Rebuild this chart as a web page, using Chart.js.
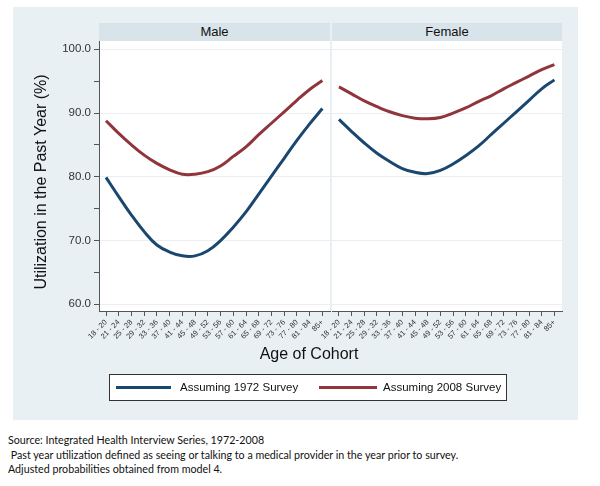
<!DOCTYPE html>
<html><head><meta charset="utf-8">
<script src="https://cdn.jsdelivr.net/npm/chart.js@4/dist/chart.umd.min.js"></script>
<style>
html,body{margin:0;padding:0;background:#fff;width:600px;height:486px;overflow:hidden;font-family:"Liberation Sans",Arial,sans-serif;}
#bg{position:absolute;left:13px;top:7px;width:565px;height:413px;background:#e9f0f3;}
.strip{position:absolute;top:23px;height:18px;background:#d8e3ea;font-size:13px;color:#111;text-align:center;line-height:18px;}
canvas{position:absolute;top:0;}
#ytitle{position:absolute;left:-79px;top:172px;width:240px;height:20px;line-height:20px;text-align:center;font-size:16px;color:#111;transform:rotate(-90deg);transform-origin:50% 50%;}
#xtitle{position:absolute;left:209px;top:344px;width:200px;text-align:center;font-size:16px;color:#111;line-height:20px;}
#legend{position:absolute;left:109px;top:374px;width:396px;height:25px;border:1px solid #333;background:#fff;font-size:11.5px;color:#111;}
.lline{position:absolute;top:11px;height:3px;}
.ltext{position:absolute;top:5px;line-height:14px;white-space:nowrap;}
#notes{position:absolute;left:8px;top:433px;font-family:Lato,"Open Sans",sans-serif;font-size:10.7px;color:#111;line-height:14.5px;white-space:pre;}
</style></head>
<body>
<div id="bg"></div>
<div class="strip" style="left:99px;width:231px;">Male</div>
<div class="strip" style="left:332px;width:230px;">Female</div>
<canvas id="male" width="331" height="360" style="left:0"></canvas>
<canvas id="female" width="261" height="360" style="left:302px"></canvas>
<div id="ytitle">Utilization in the Past Year (%)</div>
<div id="xtitle">Age of Cohort</div>
<div id="legend">
  <div class="lline" style="left:6px;width:55px;background:#1a476f;"></div>
  <div class="ltext" style="left:70px;">Assuming 1972 Survey</div>
  <div class="lline" style="left:209px;width:58px;background:#90353b;"></div>
  <div class="ltext" style="left:273px;">Assuming 2008 Survey</div>
</div>
<div id="notes">Source: Integrated Health Interview Series, 1972-2008
 Past year utilization defined as seeing or talking to a medical provider in the year prior to survey.
Adjusted probabilities obtained from model 4.</div>
<script>
const ageGroups = ['18 - 20','21 - 24','25 - 28','29 - 32','33 - 36','37 - 40','41 - 44','45 - 48','49 - 52','53 - 56','57 - 60','61 - 64','65 - 68','69 - 72','73 - 76','77 - 80','81 - 84','85+'];
const male1972 = [79.9, 76.9, 74.0, 71.4, 69.3, 68.2, 67.6, 67.6, 68.4, 70.0, 72.1, 74.5, 77.3, 80.1, 82.9, 85.7, 88.3, 90.7];
const male2008 = [88.8, 86.8, 85.0, 83.4, 82.1, 81.1, 80.4, 80.4, 80.8, 81.7, 83.2, 84.7, 86.6, 88.4, 90.2, 92.0, 93.7, 95.1];
const female1972 = [89.0, 87.1, 85.3, 83.7, 82.4, 81.3, 80.7, 80.5, 81.0, 82.0, 83.3, 84.8, 86.6, 88.4, 90.2, 92.0, 93.8, 95.2];
const female2008 = [94.1, 93.0, 91.9, 91.0, 90.2, 89.6, 89.2, 89.1, 89.3, 90.0, 90.8, 91.8, 92.7, 93.8, 94.8, 95.8, 96.8, 97.6];
const yTickValues = [60, 65, 70, 75, 80, 85, 90, 95, 100];
const yLabelValues = [60, 70, 80, 90, 100];
const seriesNames = ['Assuming 1972 Survey', 'Assuming 2008 Survey'];
const seriesColors = ['#1a476f', '#90353b'];

const toPoints = arr => arr.map((v, i) => ({x: i, y: v}));

const plotBg = {
  id: 'plotBg',
  beforeDraw(chart) {
    const {ctx, chartArea: a} = chart;
    ctx.save();
    ctx.fillStyle = '#ffffff';
    ctx.fillRect(a.left, a.top, a.right - a.left, a.bottom - a.top);
    ctx.restore();
  }
};

function makeChart(id, s1972, s2008, showY, padLeft) {
  return new Chart(document.getElementById(id), {
    type: 'line',
    data: {
      datasets: [
        {label: seriesNames[0], data: toPoints(s1972), borderColor: seriesColors[0], borderWidth: 3, pointRadius: 0, tension: 0.4, fill: false},
        {label: seriesNames[1], data: toPoints(s2008), borderColor: seriesColors[1], borderWidth: 3, pointRadius: 0, tension: 0.4, fill: false}
      ]
    },
    options: {
      responsive: false, animation: false, devicePixelRatio: 1,
      layout: {padding: {top: 41, right: 1, left: padLeft, bottom: 0}},
      plugins: {legend: {display: false}, tooltip: {enabled: false}},
      scales: {
        x: {
          type: 'linear', min: -0.55, max: 17.6,
          afterBuildTicks(s) { s.ticks = ageGroups.map((_, i) => ({value: i})); },
          ticks: {autoSkip: false, minRotation: 45, maxRotation: 45, padding: 2, color: '#333', font: {size: 7.5, family: 'Liberation Sans'},
            callback: v => ageGroups[v]},
          grid: {drawOnChartArea: false, drawTicks: true, tickLength: 5, tickColor: '#555', color: '#555'},
          border: {display: true, color: '#555', width: 1},
          afterFit(s) { s.height = 49; }
        },
        y: {
          type: 'linear', min: 58.95, max: 101.3,
          afterBuildTicks(s) { s.ticks = yTickValues.map(v => ({value: v})); },
          ticks: {display: showY, padding: 3, color: '#333', font: {size: 11.5, family: 'Liberation Sans'},
            callback: v => yLabelValues.includes(v) ? v.toFixed(1) : ''},
          grid: {
            drawTicks: showY, tickLength: 5, tickColor: '#555',
            color: c => (c.tick && yLabelValues.includes(c.tick.value)) ? '#eaeff2' : 'rgba(0,0,0,0)'
          },
          border: {display: showY, color: '#555', width: 1},
          afterFit(s) { s.width = showY ? 99 : 0; }
        }
      }
    },
    plugins: [plotBg]
  });
}

makeChart('male', male1972, male2008, true, 0);
makeChart('female', female1972, female2008, false, 30);
</script>
</body></html>
